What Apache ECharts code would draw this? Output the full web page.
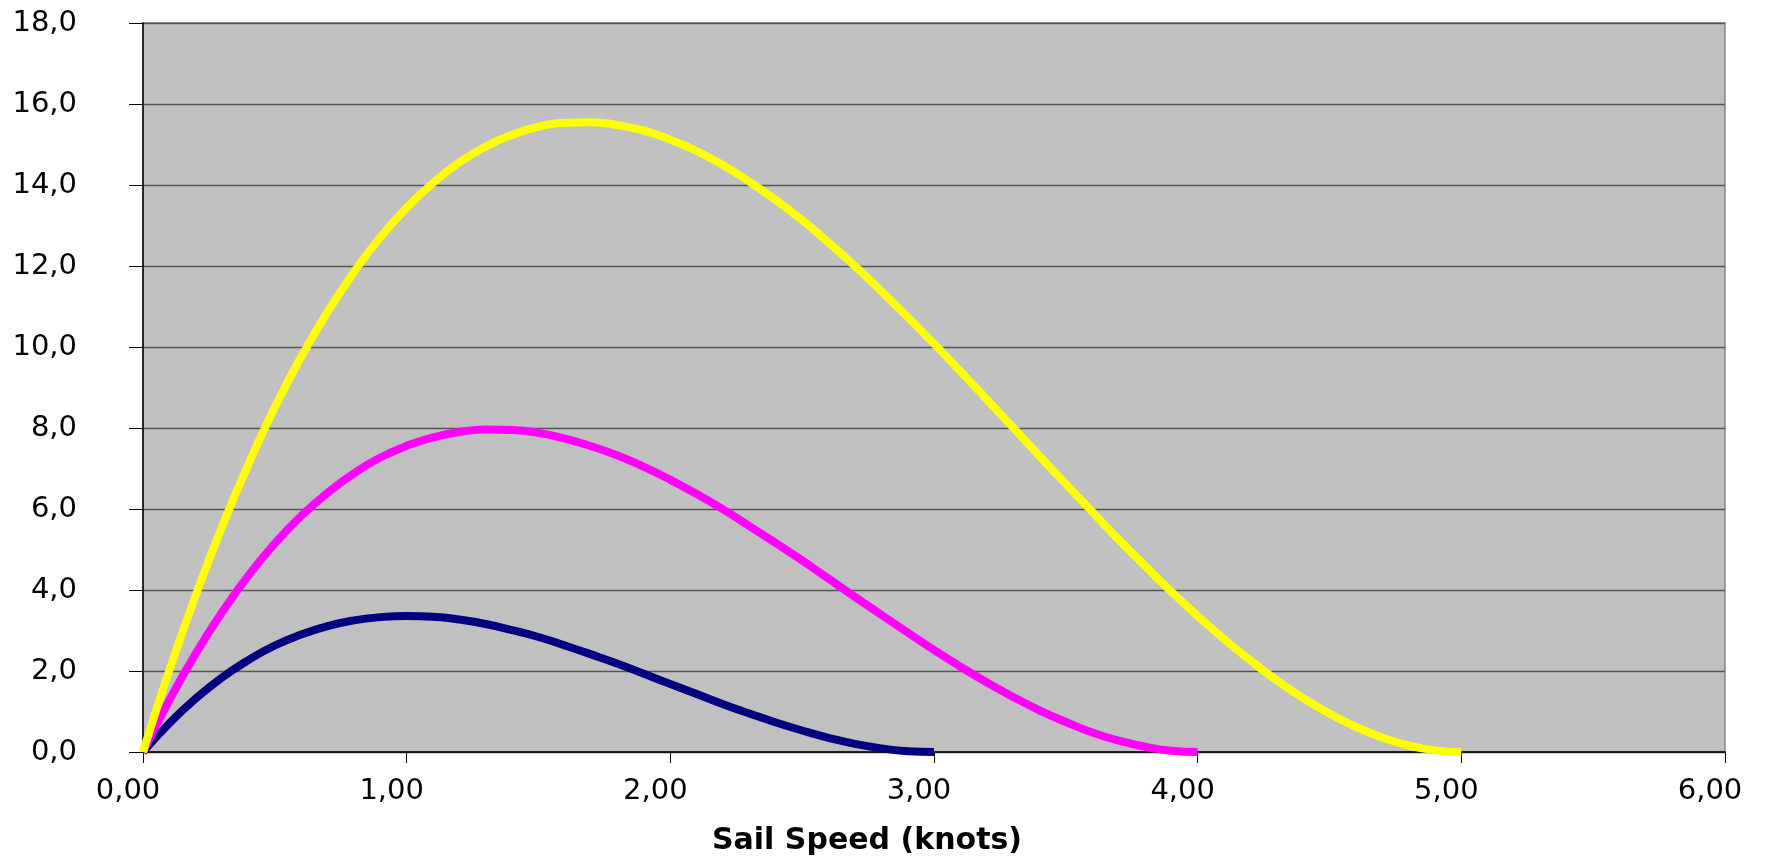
<!DOCTYPE html>
<html>
<head>
<meta charset="utf-8">
<script src="https://cdn.jsdelivr.net/npm/echarts@6/dist/echarts.min.js"></script>
<style>html,body{margin:0;padding:0;background:#fff;}#chart{width:1767px;height:863px;}</style>
</head>
<body>
<div id="chart"></div>
<script>
// Wind 3 knots (navy)
const speedsA = [0,0.1,0.2,0.3,0.4,0.5,0.6,0.7,0.8,0.9,1.0,1.1,1.2,1.3,1.4,1.5,1.6,1.7,1.8,1.9,2.0,2.1,2.2,2.3,2.4,2.5,2.6,2.7,2.8,2.9,3.0];
const powerA = [0,0.71,1.32,1.84,2.27,2.63,2.90,3.11,3.25,3.33,3.36,3.34,3.27,3.16,3.01,2.84,2.63,2.41,2.18,1.93,1.68,1.43,1.18,0.95,0.73,0.53,0.35,0.20,0.09,0.02,0];
// Wind 4 knots (magenta)
const speedsB = [0,0.1,0.2,0.3,0.4,0.5,0.6,0.7,0.8,0.9,1.0,1.1,1.2,1.3,1.4,1.5,1.6,1.7,1.8,1.9,2.0,2.1,2.2,2.3,2.4,2.5,2.6,2.7,2.8,2.9,3.0,3.1,3.2,3.3,3.4,3.5,3.6,3.7,3.8,3.9,4.0];
const powerB = [0,1.28,2.43,3.45,4.36,5.15,5.83,6.40,6.88,7.27,7.56,7.77,7.90,7.96,7.95,7.88,7.74,7.55,7.32,7.04,6.72,6.37,5.99,5.58,5.16,4.73,4.28,3.83,3.39,2.95,2.52,2.11,1.72,1.36,1.03,0.74,0.48,0.28,0.13,0.03,0];
// Wind 5 knots (yellow)
const speedsC = [0,0.1,0.2,0.3,0.4,0.5,0.6,0.7,0.8,0.9,1.0,1.1,1.2,1.3,1.4,1.5,1.6,1.7,1.8,1.9,2.0,2.1,2.2,2.3,2.4,2.5,2.6,2.7,2.8,2.9,3.0,3.1,3.2,3.3,3.4,3.5,3.6,3.7,3.8,3.9,4.0,4.1,4.2,4.3,4.4,4.5,4.6,4.7,4.8,4.9,5.0];
const powerC = [0,2.02,3.87,5.57,7.11,8.51,9.76,10.87,11.85,12.71,13.44,14.05,14.56,14.95,15.24,15.44,15.54,15.55,15.48,15.34,15.12,14.84,14.49,14.08,13.63,13.13,12.58,12.00,11.38,10.74,10.08,9.40,8.71,8.01,7.31,6.62,5.93,5.25,4.60,3.96,3.36,2.79,2.26,1.77,1.33,0.95,0.62,0.36,0.16,0.04,0];

const xTitle = 'Sail Speed (knots)';

function pairs(xs, ys){ return xs.map((x,i)=>[x, ys[i]]); }

const chart = echarts.init(document.getElementById('chart'));
const font = 'DejaVu Sans, Verdana, sans-serif';
chart.setOption({
  animation: false,
  backgroundColor: '#ffffff',
  title: {
    text: xTitle,
    left: 867, top: 826, padding: 0,
    textAlign: 'center',
    textStyle: {fontFamily: font, fontWeight: 'bold', fontSize: 30, color: '#000'}
  },
  grid: {
    left: 143, right: 42, top: 23, bottom: 111,
    show: true, backgroundColor: '#C0C0C0', borderColor: '#858585', borderWidth: 1.5
  },
  xAxis: {
    type: 'value', min: 0, max: 6, interval: 1,
    axisLine: {show: true, onZero: false, lineStyle: {color: '#000', width: 1.5}},
    axisTick: {show: true, length: 11, lineStyle: {color: '#000'}},
    splitLine: {show: false},
    axisLabel: {margin: 25, fontFamily: font, fontSize: 29, color: '#000',
      padding: [0, 30, 0, 0],
      formatter: v => v.toFixed(2).replace('.', ',')}
  },
  yAxis: {
    type: 'value', min: 0, max: 18, interval: 2,
    axisLine: {show: true, lineStyle: {color: '#000', width: 1.5}},
    axisTick: {show: true, length: 14, lineStyle: {color: '#000'}},
    splitLine: {show: true, lineStyle: {color: '#555', width: 1.3}},
    axisLabel: {margin: 66, fontFamily: font, fontSize: 29, color: '#000',
      formatter: v => v.toFixed(1).replace('.', ',')}
  },
  series: [
    {type: 'line', data: pairs(speedsA, powerA), smooth: true, showSymbol: false,
     lineStyle: {color: '#000080', width: 8}},
    {type: 'line', data: pairs(speedsB, powerB), smooth: true, showSymbol: false,
     lineStyle: {color: '#FF00FF', width: 8}},
    {type: 'line', data: pairs(speedsC, powerC), smooth: true, showSymbol: false,
     lineStyle: {color: '#FFFF00', width: 8}}
  ]
});
</script>
</body>
</html>
